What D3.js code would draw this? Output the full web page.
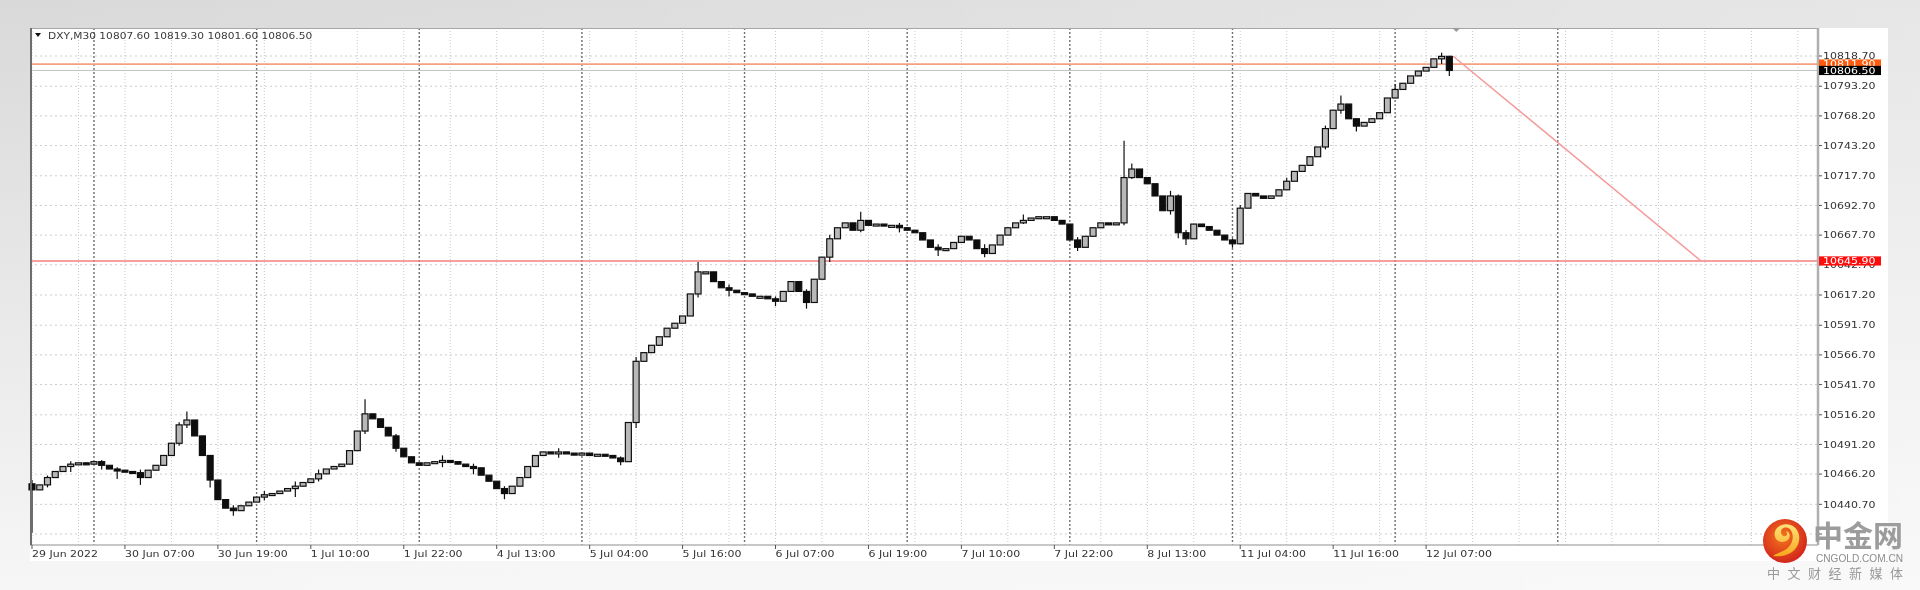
<!DOCTYPE html>
<html><head><meta charset="utf-8">
<script src="https://cdn.jsdelivr.net/npm/d3@7"></script>
<style>
html,body{margin:0;padding:0;width:1920px;height:590px;overflow:hidden;background:#e8e8e8;}
svg{display:block;}
</style></head><body>
<svg id="c" width="1920" height="590"></svg>
<script>
// ---------------- DATA ----------------
const symbolName = "DXY,M30";
const legendValues = ["10807.60", "10819.30", "10801.60", "10806.50"];
const firstOpen = 10458.0;
const closes = [
10452.9,10457.1,10463.3,10468.4,10472.6,10474.6,10475.7,10474.6,10476.7,10473.6,
10470.5,10469.5,10468.4,10467.4,10463.3,10469.5,10473.6,10481.9,10492.2,10507.7,
10511.8,10498.4,10481.9,10461.2,10444.7,10437.5,10435.4,10439.5,10442.6,10446.8,
10448.8,10449.8,10451.9,10454.0,10456.0,10459.1,10462.2,10466.4,10470.5,10472.6,
10474.6,10486.0,10502.5,10517.0,10512.8,10505.6,10498.4,10488.0,10480.8,10475.7,
10473.6,10475.7,10476.7,10477.7,10476.7,10474.6,10472.6,10471.5,10465.3,10460.2,
10454.0,10449.8,10456.0,10463.3,10472.6,10481.9,10484.9,10483.9,10484.9,10483.9,
10482.9,10483.9,10481.9,10482.9,10481.9,10479.8,10476.7,10509.7,10561.3,10568.6,
10574.8,10582.0,10589.2,10593.4,10599.5,10618.1,10636.7,10636.7,10628.5,10623.3,
10621.2,10619.2,10618.1,10616.1,10616.1,10614.0,10611.9,10620.2,10628.5,10620.2,
10610.9,10630.5,10649.1,10664.6,10673.9,10678.0,10671.8,10680.1,10675.9,10677.0,
10675.9,10675.9,10673.9,10671.8,10669.7,10663.6,10657.4,10655.3,10656.3,10661.5,
10666.7,10663.6,10656.3,10652.2,10659.4,10667.7,10673.9,10678.0,10680.1,10682.1,
10683.2,10683.2,10680.1,10677.0,10663.6,10657.4,10666.7,10673.9,10678.0,10677.0,
10678.0,10716.2,10723.4,10716.2,10711.0,10700.7,10688.3,10700.7,10669.7,10664.6,
10677.0,10674.9,10671.8,10667.7,10663.6,10660.4,10690.4,10702.8,10700.7,10698.7,
10700.7,10705.9,10713.1,10721.4,10726.5,10733.8,10742.0,10757.5,10773.0,10778.2,
10765.8,10759.6,10762.7,10765.8,10770.9,10783.3,10790.5,10795.7,10801.9,10806.0,
10809.1,10816.3,10818.4,10806.5
];
// [bar index, high, low] for bars whose wicks reach beyond the body
const wicks = [
[0,10461.2,10416.8],[2,10465.0,10455.0],[5,10477.0,10468.0],[9,10478.0,10470.0],
[11,10472.0,10462.0],[14,10470.0,10457.1],[19,10510.0,10490.0],[20,10519.0,10505.0],
[23,10482.0,10455.0],[26,10440.0,10431.0],[30,10452.0,10444.0],[34,10460.0,10446.8],
[37,10470.0,10460.0],[43,10529.3,10500.0],[47,10500.0,10485.0],[53,10482.0,10472.0],
[57,10475.0,10466.0],[61,10456.0,10445.0],[68,10488.0,10480.0],[76,10481.0,10473.6],
[78,10565.0,10505.0],[86,10645.0,10615.0],[90,10626.0,10616.0],[96,10616.0,10607.8],
[100,10622.0,10605.7],[103,10668.0,10645.0],[107,10687.3,10670.0],[112,10678.0,10670.0],
[117,10660.0,10650.0],[123,10660.0,10649.1],[128,10685.0,10677.0],[135,10666.0,10654.3],
[141,10747.2,10676.0],[142,10728.0,10715.0],[147,10705.0,10685.0],[148,10702.0,10665.0],
[149,10672.0,10659.4],[155,10665.0,10657.0],[156,10693.0,10660.0],[162,10716.0,10706.0],
[167,10760.0,10740.0],[169,10785.4,10770.0],[171,10765.0,10755.0],[176,10795.0,10783.0],
[182,10821.5,10812.0],[183,10819.0,10801.9]
];
// price-scale ticks; the lowest one sits behind the watermark, so its text is not drawn
const yTickLabels = ["10818.70","10793.20","10768.20","10743.20","10717.70","10692.70","10667.70","10642.70",
"10617.20","10591.70","10566.70","10541.70","10516.20","10491.20","10466.20","10440.70","10415.70"];
const yHiddenLabels = ["10415.70"];
const xTickLabels = ["29 Jun 2022","30 Jun 07:00","30 Jun 19:00","1 Jul 10:00","1 Jul 22:00","4 Jul 13:00",
"5 Jul 04:00","5 Jul 16:00","6 Jul 07:00","6 Jul 19:00","7 Jul 10:00","7 Jul 22:00","8 Jul 13:00",
"11 Jul 04:00","11 Jul 16:00","12 Jul 07:00"];
const xTickBars = [0,12,24,36,48,60,72,84,96,108,120,132,144,156,168,180];
const daySeparators = [8,29,50,71,92,113,134,155,176,197];
const resistanceLevel = 10811.9;
const supportLevel = 10645.9;
const bidLevel = 10806.5;
const resistanceLabel = "10811.90";
const supportLabel = "10645.90";
const bidLabel = "10806.50";
const trendStart = [183.5, 10818.5];
const trendEnd = [215.5, 10645.9];

// ---------------- LAYOUT ----------------
const svg = d3.select("#c");
const P = {l:30, t:28, r:1818, b:545};
const x = d3.scaleLinear().domain([0, 230.6]).range([32, 1818]);
const y = d3.scaleLinear().domain([10415.7, 10818.7]).range([534, 56]);
const FONT = "DejaVu Sans, Verdana, sans-serif";
const STR = 1.22;

const defs = svg.append("defs");
const bg = defs.append("linearGradient").attr("id","bg").attr("x1",0).attr("y1",0).attr("x2",0).attr("y2",1);
bg.append("stop").attr("offset","0%").attr("stop-color","#d9d9d9");
bg.append("stop").attr("offset","60%").attr("stop-color","#ebebeb");
bg.append("stop").attr("offset","100%").attr("stop-color","#f6f6f6");
const bgh = defs.append("linearGradient").attr("id","bgh").attr("x1",0).attr("y1",0).attr("x2",1).attr("y2",0);
bgh.append("stop").attr("offset","0%").attr("stop-color","#fff").attr("stop-opacity",0);
bgh.append("stop").attr("offset","100%").attr("stop-color","#fff").attr("stop-opacity",0.35);
defs.append("filter").attr("id","soft").append("feGaussianBlur").attr("stdDeviation",0.45);
const rg = defs.append("radialGradient").attr("id","logoR").attr("cx","45%").attr("cy","40%").attr("r","60%");
rg.append("stop").attr("offset","0%").attr("stop-color","#f4761e");
rg.append("stop").attr("offset","100%").attr("stop-color","#d3261b");
const yg = defs.append("linearGradient").attr("id","logoY").attr("x1",0).attr("y1",0).attr("x2",0).attr("y2",1);
yg.append("stop").attr("offset","0%").attr("stop-color","#ffe27a");
yg.append("stop").attr("offset","100%").attr("stop-color","#f7a81c");

svg.append("rect").attr("width",1920).attr("height",590).attr("fill","url(#bg)");
svg.append("rect").attr("width",1920).attr("height",590).attr("fill","url(#bgh)");

const g = svg.append("g").attr("filter","url(#soft)");
g.append("rect").attr("x",P.l).attr("y",P.t).attr("width",1888-P.l).attr("height",561-P.t).attr("fill","#fff");

// grid
g.append("g").selectAll("line").data(d3.range(0, 231, 6)).join("line")
  .attr("x1",d=>x(d)).attr("x2",d=>x(d)).attr("y1",P.t).attr("y2",P.b)
  .attr("stroke","#c9c9c9").attr("stroke-width",1).attr("stroke-dasharray","1,2");
g.append("g").selectAll("line").data(yTickLabels).join("line")
  .attr("x1",P.l).attr("x2",P.r).attr("y1",d=>y(+d)).attr("y2",d=>y(+d))
  .attr("stroke","#cdcdcd").attr("stroke-width",1).attr("stroke-dasharray","2,3");
g.append("g").selectAll("line").data(daySeparators).join("line")
  .attr("x1",d=>x(d)).attr("x2",d=>x(d)).attr("y1",P.t).attr("y2",P.b)
  .attr("stroke","#6f6f6f").attr("stroke-width",1.4).attr("stroke-dasharray","2,2");

// levels
g.append("line").attr("x1",P.l).attr("x2",P.r).attr("y1",y(bidLevel)).attr("y2",y(bidLevel))
  .attr("stroke","#c4c4c4").attr("stroke-width",1);
g.append("line").attr("x1",P.l).attr("x2",P.r).attr("y1",y(resistanceLevel)).attr("y2",y(resistanceLevel))
  .attr("stroke","#f5a07e").attr("stroke-width",1.8);
g.append("line").attr("x1",P.l).attr("x2",P.r).attr("y1",y(supportLevel)).attr("y2",y(supportLevel))
  .attr("stroke","#f27f7f").attr("stroke-width",1.4);
g.append("line").attr("x1",x(trendStart[0])).attr("y1",y(trendStart[1]))
  .attr("x2",x(trendEnd[0])).attr("y2",y(trendEnd[1]))
  .attr("stroke","#f59a9a").attr("stroke-width",1.5);

// candles
const bars = closes.map((c,i)=>{
  const o = i===0 ? firstOpen : closes[i-1];
  const w = wicks.find(d=>d[0]===i);
  return {i, o, c, h: w ? w[1] : Math.max(o,c), l: w ? w[2] : Math.min(o,c)};
});
const cg = g.append("g");
cg.selectAll("line").data(bars).join("line")
  .attr("x1",d=>x(d.i)).attr("x2",d=>x(d.i)).attr("y1",d=>y(d.h)).attr("y2",d=>y(d.l))
  .attr("stroke","#111").attr("stroke-width",1.2);
cg.selectAll("rect").data(bars).join("rect")
  .attr("x",d=>x(d.i)-3).attr("width",6)
  .attr("y",d=>y(Math.max(d.o,d.c)))
  .attr("height",d=>Math.max(2, Math.abs(y(d.o)-y(d.c))))
  .attr("fill",d=>d.c>=d.o ? "#b8b8b8" : "#111").attr("stroke","#111").attr("stroke-width",1.2);

// borders
g.append("line").attr("x1",P.l).attr("x2",P.r).attr("y1",P.t+0.5).attr("y2",P.t+0.5).attr("stroke","#a6a6a6");
g.append("line").attr("x1",P.l).attr("x2",P.r).attr("y1",P.b).attr("y2",P.b).attr("stroke","#b5b5b5").attr("stroke-width",1.6);
g.append("line").attr("x1",P.l+1).attr("x2",P.l+1).attr("y1",P.t).attr("y2",P.b).attr("stroke","#6d6d6d").attr("stroke-width",2);
g.append("line").attr("x1",P.r).attr("x2",P.r).attr("y1",P.t).attr("y2",P.b).attr("stroke","#b0b0b0").attr("stroke-width",2.5);
g.append("path").attr("d",`M${x(183.9)-4},${P.t}L${x(183.9)+4},${P.t}L${x(183.9)},${P.t+4}Z`).attr("fill","#9a9a9a");

function stretch(sel, k){ sel.each(function(){ const L=this.getComputedTextLength(); this.setAttribute("textLength", L*k); this.setAttribute("lengthAdjust","spacingAndGlyphs"); }); }

// legend
g.append("path").attr("d","M35,33 L41,33 L38,37 Z").attr("fill","#111");
const lg = g.append("text").attr("x",48).attr("y",38.5).attr("font-family",FONT).attr("font-size",9).attr("fill","#3a3a3a")
  .text(symbolName + "  " + legendValues.join(" "));
stretch(lg, 1.18);

// y axis
const ya = g.append("g");
ya.selectAll("line").data(yTickLabels).join("line")
  .attr("x1",P.r+1).attr("x2",P.r+4).attr("y1",d=>y(+d)).attr("y2",d=>y(+d)).attr("stroke","#555");
const yt = ya.selectAll("text").data(yTickLabels.filter(d=>!yHiddenLabels.includes(d))).join("text")
  .attr("x",1823).attr("y",d=>y(+d)+3.2).attr("font-family",FONT).attr("font-size",9).attr("fill","#333").text(d=>d);
stretch(yt, STR);

// price labels
function priceTag(level, label, color){
  const yy = y(level);
  g.append("rect").attr("x",1819).attr("y",yy-4.6).attr("width",62).attr("height",9.2).attr("fill",color);
  const t = g.append("text").attr("x",1823).attr("y",yy+3.2).attr("font-family",FONT).attr("font-size",9).attr("fill","#fff").text(label);
  stretch(t, STR);
}
priceTag(resistanceLevel, resistanceLabel, "#ff5a0a");
priceTag(bidLevel, bidLabel, "#000");
priceTag(supportLevel, supportLabel, "#ff1010");

// x axis
const xa = g.append("g");
xa.selectAll("line").data(xTickBars).join("line")
  .attr("x1",d=>x(d)).attr("x2",d=>x(d)).attr("y1",P.b).attr("y2",P.b+4).attr("stroke","#555");
const xt = xa.selectAll("text").data(xTickLabels).join("text")
  .attr("x",(d,i)=>x(xTickBars[i])).attr("y",557).attr("font-family",FONT).attr("font-size",9).attr("fill","#333").text(d=>d);
stretch(xt, STR);

// logo
const lo = svg.append("g").attr("filter","url(#soft)");
lo.append("circle").attr("cx",1785).attr("cy",541).attr("r",22).attr("fill","url(#logoR)");
lo.append("path").attr("d","M1773,556 C1790,558 1801,548 1799,535 C1797,524 1784,521 1777,528 C1771,535 1777,545 1786,541 C1791,539 1791,532 1786,531 C1789,535 1785,538 1782,535 C1779,531 1783,526 1788,528 C1795,531 1795,546 1783,551 C1779,553 1775,554 1773,556 Z")
  .attr("fill","url(#logoY)");
lo.append("text").attr("x",1813).attr("y",547).attr("font-family","Noto Sans CJK SC").attr("font-weight",700)
  .attr("font-size",29).attr("fill","#9c9c9c").attr("textLength",90).attr("lengthAdjust","spacingAndGlyphs").text("中金网");
lo.append("text").attr("x",1816).attr("y",562).attr("font-family","Liberation Sans, Arial, sans-serif")
  .attr("font-size",11).attr("fill","#8c8c8c").attr("textLength",87).attr("lengthAdjust","spacingAndGlyphs").text("CNGOLD.COM.CN");
lo.append("text").attr("x",1767).attr("y",578).attr("font-family","Noto Sans CJK SC")
  .attr("font-size",13).attr("fill","#9a9a9a").attr("textLength",136).attr("lengthAdjust","spacing").text("中文财经新媒体");
</script>
</body></html>
